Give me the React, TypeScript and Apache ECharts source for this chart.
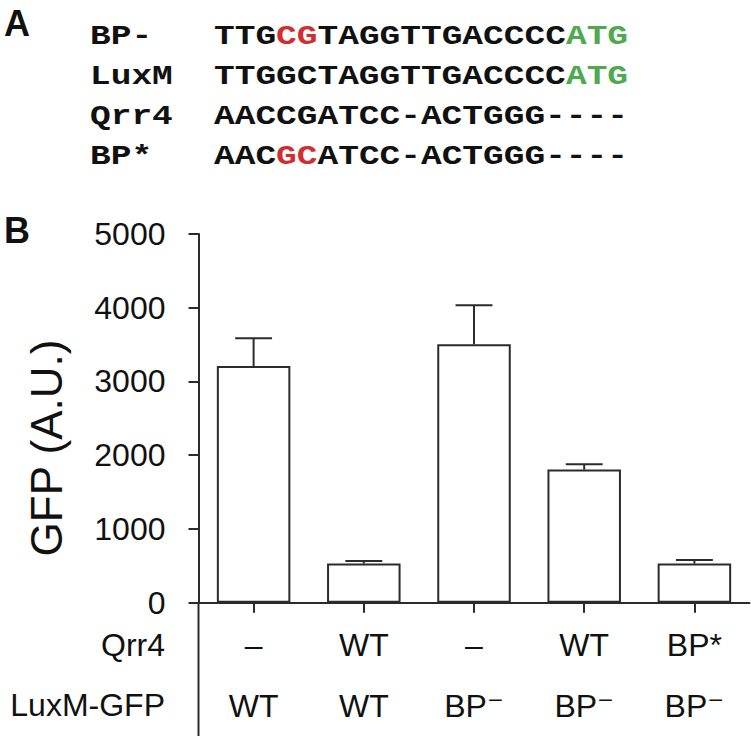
import React, { useEffect, useRef } from 'react';
import * as echarts from 'echarts';

// ---------- data ----------
const qrr4Labels = ['–', 'WT', '–', 'WT', 'BP*'];
const luxmLabels = ['WT', 'WT', 'BP⁻', 'BP⁻', 'BP⁻'];
const gfpValues = [3210, 530, 3505, 1805, 530];
const gfpErrors = [375, 35, 530, 72, 50];
const yMin = 0;
const yMax = 5000;
const yStep = 1000;
const rowTitles = ['Qrr4', 'LuxM-GFP'];
const yTitle = 'GFP (A.U.)';

const seqNames = ['BP-', 'LuxM', 'Qrr4', 'BP*'];
// segments: [text, colour key]
const seqRows: [string, string][][] = [
  [['TTG', 'k'], ['CG', 'r'], ['TAGGTTGACCCC', 'k'], ['ATG', 'g']],
  [['TTGGCTAGGTTGACCCC', 'k'], ['ATG', 'g']],
  [['AACCGATCC-ACTGGG----', 'k']],
  [['AAC', 'k'], ['GC', 'r'], ['ATCC-ACTGGG----', 'k']],
];

const INK = '#111';
const LINE = '#2b2b2b';
const SANS = '"Liberation Sans", "DejaVu Sans", Arial, Helvetica, sans-serif';
const MONO = '"Liberation Mono", "Courier New", monospace';

export default function App() {
  const ref = useRef<HTMLDivElement>(null);

  useEffect(() => {
    document.body.style.margin = '0';
    if (!ref.current) return;
    const chart = echarts.init(ref.current, undefined, { renderer: 'svg' });

    const monoSize = 34.5;
    const richMono = {
      k: { fill: INK, fontFamily: MONO, fontSize: monoSize, fontWeight: 'bold' },
      r: { fill: '#d12f2f', fontFamily: MONO, fontSize: monoSize, fontWeight: 'bold' },
      g: { fill: '#4fa94f', fontFamily: MONO, fontSize: monoSize, fontWeight: 'bold' },
    };
    const seqGraphics: any[] = [];
    seqNames.forEach((name, i) => {
      const cy = 36 + i * 40;
      seqGraphics.push({
        type: 'text',
        x: 90,
        y: cy,
        scaleY: 0.82,
        style: {
          text: name,
          fill: INK,
          fontFamily: MONO,
          fontSize: monoSize,
          fontWeight: 'bold',
          verticalAlign: 'middle',
          align: 'left',
        },
      });
      seqGraphics.push({
        type: 'text',
        x: 214,
        y: cy,
        scaleY: 0.82,
        style: {
          text: seqRows[i].map(([t, c]) => `{${c}|${t}}`).join(''),
          rich: richMono,
          fill: INK,
          fontFamily: MONO,
          fontSize: monoSize,
          fontWeight: 'bold',
          verticalAlign: 'middle',
          align: 'left',
        },
      });
    });

    const option: any = {
      animation: false,
      grid: { left: 198.5, right: 1.5, top: 234, bottom: 133.3, containLabel: false },
      xAxis: [
        {
          type: 'category',
          data: qrr4Labels,
          position: 'bottom',
          axisLine: { show: true, lineStyle: { color: LINE, width: 2 } },
          axisTick: { show: true, alignWithLabel: true, length: 10, lineStyle: { color: LINE, width: 2 } },
          axisLabel: { color: INK, fontSize: 32, fontFamily: SANS, margin: 26, interval: 0 },
        },
        {
          type: 'category',
          data: luxmLabels,
          position: 'bottom',
          offset: 0,
          axisLine: { show: false },
          axisTick: { show: false },
          axisLabel: {
            interval: 0,
            margin: 87,
            color: INK,
            fontSize: 32,
            fontFamily: SANS,
          },
        },
      ],
      yAxis: {
        type: 'value',
        min: yMin,
        max: yMax,
        interval: yStep,
        axisLine: { show: true, lineStyle: { color: LINE, width: 2 } },
        axisTick: { show: true, length: 10, lineStyle: { color: LINE, width: 2 } },
        axisLabel: {
          color: INK,
          fontSize: 32,
          fontFamily: SANS,
          margin: 33,
          formatter: (v: number) => String(v),
        },
        splitLine: { show: false },
      },
      series: [
        {
          type: 'bar',
          xAxisIndex: 0,
          data: gfpValues,
          barWidth: '66.7%',
          itemStyle: { color: '#fff', borderColor: LINE, borderWidth: 2 },
          z: 2,
        },
        {
          type: 'custom',
          xAxisIndex: 0,
          data: gfpValues.map((v, i) => [i, v, v + gfpErrors[i]]),
          encode: { x: 0, y: [1, 2] },
          z: 5,
          renderItem: (params: any, api: any) => {
            const x = api.value(0);
            const lo = api.coord([x, api.value(1)]);
            const hi = api.coord([x, api.value(2)]);
            const cw = api.size([1, 0])[0] * 0.335;
            const style = { stroke: LINE, lineWidth: 2 };
            return {
              type: 'group',
              children: [
                { type: 'line', shape: { x1: lo[0], y1: lo[1], x2: hi[0], y2: hi[1] }, style },
                { type: 'line', shape: { x1: hi[0] - cw / 2, y1: hi[1], x2: hi[0] + cw / 2, y2: hi[1] }, style },
              ],
            };
          },
        },
      ],
      graphic: [
        {
          type: 'text',
          x: 4,
          y: 23,
          style: { text: 'A', fill: INK, fontFamily: SANS, fontSize: 36, fontWeight: 'bold', verticalAlign: 'middle' },
        },
        {
          type: 'text',
          x: 4,
          y: 230,
          style: { text: 'B', fill: INK, fontFamily: SANS, fontSize: 36, fontWeight: 'bold', verticalAlign: 'middle' },
        },
        ...seqGraphics,
        {
          type: 'text',
          x: 46,
          y: 448,
          rotation: Math.PI / 2,
          style: { text: yTitle, fill: INK, fontFamily: SANS, fontSize: 44, align: 'center', verticalAlign: 'middle' },
        },
        {
          type: 'text',
          x: 165,
          y: 645,
          style: { text: rowTitles[0], fill: INK, fontFamily: SANS, fontSize: 32, align: 'right', verticalAlign: 'middle' },
        },
        {
          type: 'text',
          x: 165,
          y: 705,
          style: { text: rowTitles[1], fill: INK, fontFamily: SANS, fontSize: 32, align: 'right', verticalAlign: 'middle' },
        },
        {
          type: 'line',
          shape: { x1: 198.5, y1: 602, x2: 198.5, y2: 736 },
          style: { stroke: LINE, lineWidth: 2 },
        },
      ],
    };

    chart.setOption(option);
    return () => chart.dispose();
  }, []);

  return <div ref={ref} style={{ width: 751, height: 736 }} />;
}
